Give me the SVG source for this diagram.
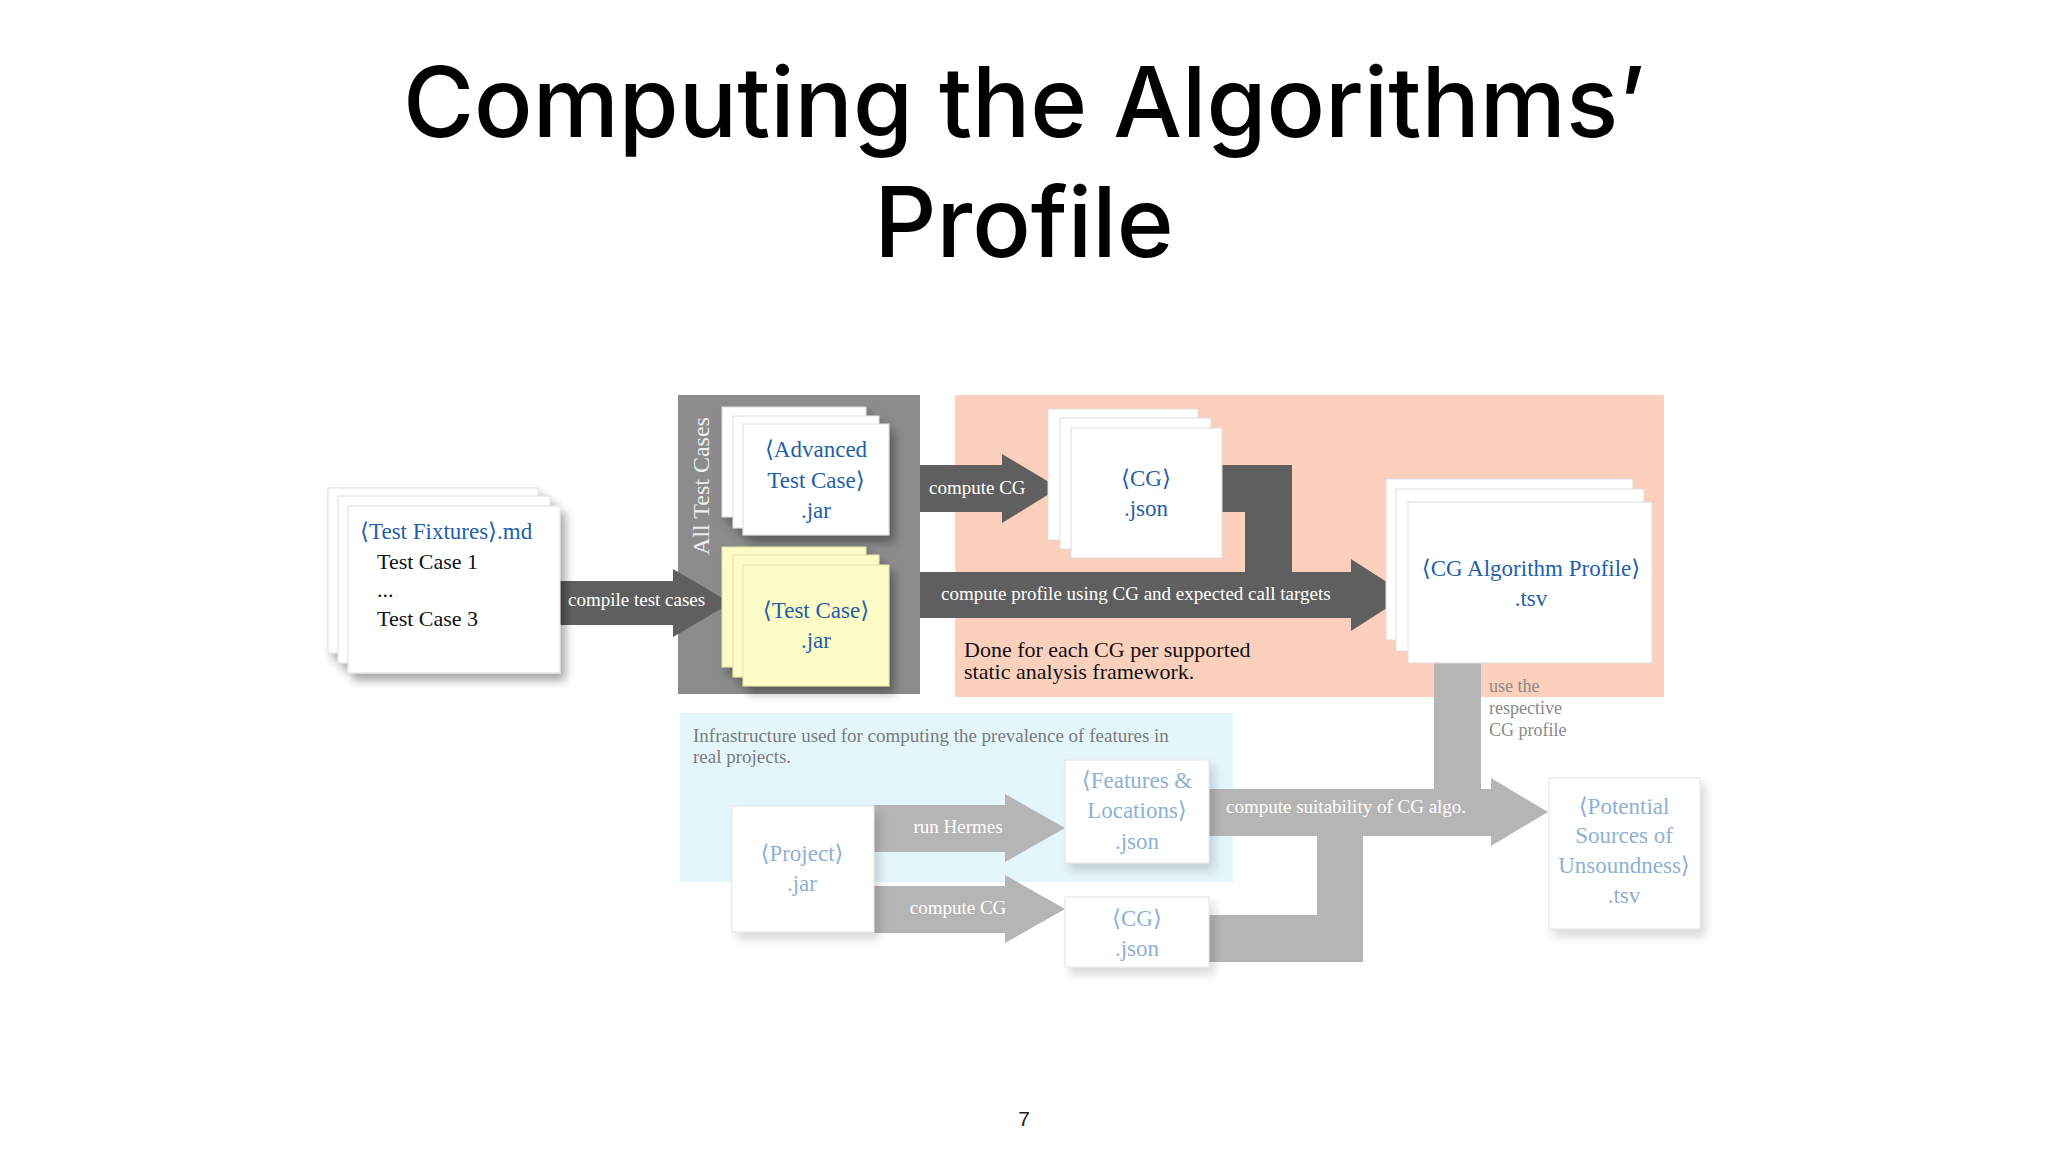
<svg xmlns="http://www.w3.org/2000/svg" width="2048" height="1152" viewBox="0 0 2048 1152">
<defs>
<filter id="sh" x="-20%" y="-20%" width="150%" height="150%"><feDropShadow dx="5" dy="7" stdDeviation="5" flood-color="#000" flood-opacity="0.35"/></filter>
<filter id="shl" x="-20%" y="-20%" width="150%" height="150%"><feDropShadow dx="5" dy="7" stdDeviation="5" flood-color="#000" flood-opacity="0.15"/></filter>
<style>
.t{font-family:"Liberation Serif","DejaVu Serif",serif}
.b{fill:#1f5fa8;font-size:23px}
.k{fill:#111;font-size:22px}
.w{fill:#fff;font-size:19px}
.lb{fill:#8fb0d4;font-size:23px}
.g{fill:#8a8a8a;font-size:18px}
.card{fill:#fff;stroke:#ddd;stroke-width:1}
.yc{fill:#fdfbc6;stroke:#e6e3a8;stroke-width:1}
.lc{fill:#fff;stroke:#e4e4e4;stroke-width:1}
.dk{fill:#5f5f5f}
.lt{fill:#b5b5b5}
</style>
</defs>
<rect width="2048" height="1152" fill="#fff"/>
<g id="title" font-family="Inter,'Liberation Sans',sans-serif" font-weight="500" font-size="97" text-anchor="middle" fill="#000">
<text x="1024" y="137">Computing the Algorithms’</text>
<text x="1024" y="257">Profile</text>
</g>
<g id="regions">
<rect x="678" y="395" width="242" height="299" fill="#8c8c8c"/>
<rect x="955" y="395" width="709" height="302" fill="#fcd0bc"/>
<rect x="680" y="713" width="553" height="169" fill="#e3f6fc"/>
<text class="t" transform="translate(709,486) rotate(-90)" text-anchor="middle" fill="#eee" font-size="24">All Test Cases</text>
<text class="t k" x="964" y="657" font-size="20">Done for each CG per supported</text>
<text class="t k" x="964" y="679" font-size="20">static analysis framework.</text>
<text class="t" x="693" y="742" fill="#7a7a7a" font-size="19">Infrastructure used for computing the prevalence of features in</text>
<text class="t" x="693" y="763" fill="#7a7a7a" font-size="19">real projects.</text>
</g>
<g id="connectors">
<polygon class="dk" points="560,581 673,581 673,569 731,603 673,637 673,625 560,625"/>
<text class="t w" x="568" y="606">compile test cases</text>
<polygon class="dk" points="920,465 1002,465 1002,454 1059,488 1002,523 1002,512 920,512"/>
<text class="t w" x="929" y="494">compute CG</text>
<polygon class="dk" points="1222,465 1292,465 1292,572 1245,572 1245,512 1222,512"/>
<polygon class="dk" points="920,572 1351,572 1351,559 1407,595 1351,631 1351,618 920,618"/>
<text class="t w" x="941" y="600">compute profile using CG and expected call targets</text>
<rect class="lt" x="1434" y="663" width="47" height="130"/>
<polygon class="lt" points="874,805 1005,805 1005,794 1065,828 1005,862 1005,852 874,852"/>
<text class="t w" x="958" y="833" text-anchor="middle">run Hermes</text>
<polygon class="lt" points="874,886 1005,886 1005,875 1065,909 1005,943 1005,933 874,933"/>
<text class="t w" x="958" y="914" text-anchor="middle">compute CG</text>
<polygon class="lt" points="1209,915 1317,915 1317,836 1363,836 1363,962 1209,962"/>
<polygon class="lt" points="1209,789 1491,789 1491,778 1548,812 1491,846 1491,836 1209,836"/>
<text class="t w" x="1226" y="813">compute suitability of CG algo.</text>
<text class="t g" x="1489" y="692">use the</text>
<text class="t g" x="1489" y="714">respective</text>
<text class="t g" x="1489" y="736">CG profile</text>
</g>
<g id="fixtures" filter="url(#sh)">
<rect class="card" x="328" y="488" width="210" height="165"/>
<rect class="card" x="338" y="496" width="212" height="167"/>
<rect class="card" x="348" y="506" width="212" height="167"/>
</g>
<g id="fixtures-text" class="t">
<text class="b" x="360" y="539">⟨Test Fixtures⟩.md</text>
<text class="k" x="377" y="569">Test Case 1</text>
<text class="k" x="377" y="597">...</text>
<text class="k" x="377" y="626">Test Case 3</text>
</g>
<g id="advanced">
<g filter="url(#sh)">
<rect class="card" x="722" y="407" width="144" height="110"/>
<rect class="card" x="733" y="416" width="146" height="112"/>
<rect class="card" x="743" y="424" width="146" height="111"/>
</g>
<text class="t b" x="816" y="457" text-anchor="middle">⟨Advanced</text>
<text class="t b" x="816" y="488" text-anchor="middle">Test Case⟩</text>
<text class="t b" x="816" y="518" text-anchor="middle">.jar</text>
</g>
<g id="testcase">
<g filter="url(#sh)">
<rect class="yc" x="722" y="547" width="144" height="120"/>
<rect class="yc" x="733" y="555" width="146" height="122"/>
<rect class="yc" x="743" y="565" width="146" height="121"/>
</g>
<text class="t b" x="816" y="618" text-anchor="middle">⟨Test Case⟩</text>
<text class="t b" x="816" y="648" text-anchor="middle">.jar</text>
</g>
<g id="cgjson">
<rect class="card" x="1048" y="409" width="150" height="131"/>
<rect class="card" x="1060" y="418" width="151" height="131"/>
<rect class="card" x="1071" y="428" width="151" height="130"/>
<text class="t b" x="1146" y="486" text-anchor="middle">⟨CG⟩</text>
<text class="t b" x="1146" y="516" text-anchor="middle">.json</text>
</g>
<g id="profile">
<rect class="card" x="1386" y="479" width="247" height="161"/>
<rect class="card" x="1396" y="489" width="248" height="162"/>
<rect class="card" x="1408" y="502" width="244" height="161"/>
<text class="t b" x="1531" y="576" text-anchor="middle">⟨CG Algorithm Profile⟩</text>
<text class="t b" x="1531" y="606" text-anchor="middle">.tsv</text>
</g>
<g id="project">
<rect class="lc" x="732" y="806" width="142" height="126" filter="url(#shl)"/>
<text class="t lb" x="802" y="861" text-anchor="middle">⟨Project⟩</text>
<text class="t lb" x="802" y="891" text-anchor="middle">.jar</text>
</g>
<g id="features">
<rect class="lc" x="1065" y="760" width="144" height="103" filter="url(#shl)"/>
<text class="t lb" x="1137" y="788" text-anchor="middle">⟨Features &amp;</text>
<text class="t lb" x="1137" y="818" text-anchor="middle">Locations⟩</text>
<text class="t lb" x="1137" y="849" text-anchor="middle">.json</text>
</g>
<g id="cgjson2">
<rect class="lc" x="1065" y="897" width="144" height="70" filter="url(#shl)"/>
<text class="t lb" x="1137" y="926" text-anchor="middle">⟨CG⟩</text>
<text class="t lb" x="1137" y="956" text-anchor="middle">.json</text>
</g>
<g id="potential">
<rect class="lc" x="1549" y="778" width="151" height="151" filter="url(#shl)"/>
<text class="t lb" x="1624" y="814" text-anchor="middle">⟨Potential</text>
<text class="t lb" x="1624" y="843" text-anchor="middle">Sources of</text>
<text class="t lb" x="1624" y="873" text-anchor="middle">Unsoundness⟩</text>
<text class="t lb" x="1624" y="903" text-anchor="middle">.tsv</text>
</g>
<text x="1024" y="1126" font-family="'Liberation Sans',sans-serif" font-size="21" text-anchor="middle" fill="#222">7</text>
</svg>
